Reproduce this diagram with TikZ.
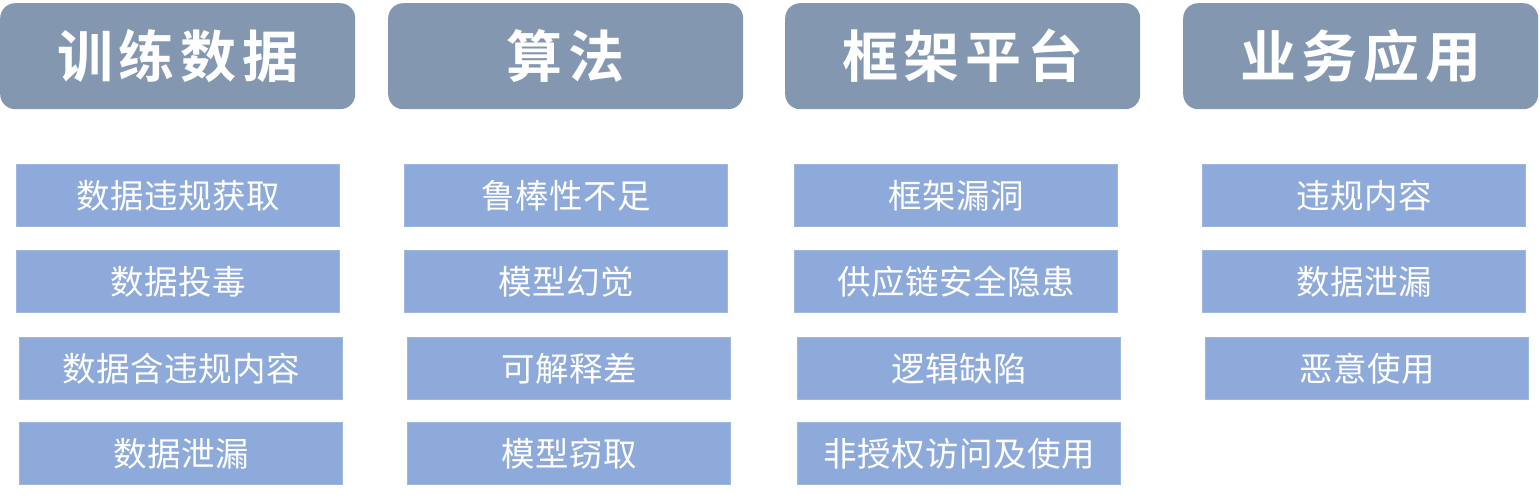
\documentclass[tikz,border=0pt]{standalone}
\usepackage{fontspec}
\setmainfont{Noto Sans CJK SC}[LetterSpace=1.5]
\newfontfamily\cjkb{Noto Sans CJK SC Bold}[LetterSpace=10]
\definecolor{headfill}{HTML}{8497B0}
\definecolor{boxfill}{HTML}{8EAADB}
\definecolor{boxline}{HTML}{9DB6E2}
\begin{document}
\begin{tikzpicture}[x=1pt,y=-1pt,
  head/.style={fill=headfill,draw=none,rounded corners=15pt,text=white,font=\cjkb\fontsize{56}{60}\selectfont,anchor=north west,inner sep=0pt,minimum width=355pt,minimum height=106pt},
  item/.style={fill=boxfill,draw=boxline,line width=1pt,text=white,font=\fontsize{33.5}{36}\selectfont,anchor=north west,inner sep=0pt,minimum width=323pt,minimum height=62pt}]
\useasboundingbox (0,0) rectangle (1540,496);
\node[head] (h1) at (0,3) {训练数据};
\node[head] (h2) at (388,3) {算法};
\node[head] (h3) at (785,3) {框架平台};
\node[head] (h4) at (1183,3) {业务应用};
% column 1
\node[item] (a1) at (16,164) {数据违规获取};
\node[item] (a2) at (16,250) {数据投毒};
\node[item] (a3) at (19,337) {数据含违规内容};
\node[item] (a4) at (19,422) {数据泄漏};
% column 2
\node[item] (b1) at (404,164) {鲁棒性不足};
\node[item] (b2) at (404,250) {模型幻觉};
\node[item] (b3) at (407,337) {可解释差};
\node[item] (b4) at (407,422) {模型窃取};
% column 3
\node[item] (c1) at (794,164) {框架漏洞};
\node[item] (c2) at (794,250) {供应链安全隐患};
\node[item] (c3) at (797,337) {逻辑缺陷};
\node[item] (c4) at (797,422) {非授权访问及使用};
% column 4
\node[item] (d1) at (1202,164) {违规内容};
\node[item] (d2) at (1202,250) {数据泄漏};
\node[item] (d3) at (1205,337) {恶意使用};
\end{tikzpicture}
\end{document}
